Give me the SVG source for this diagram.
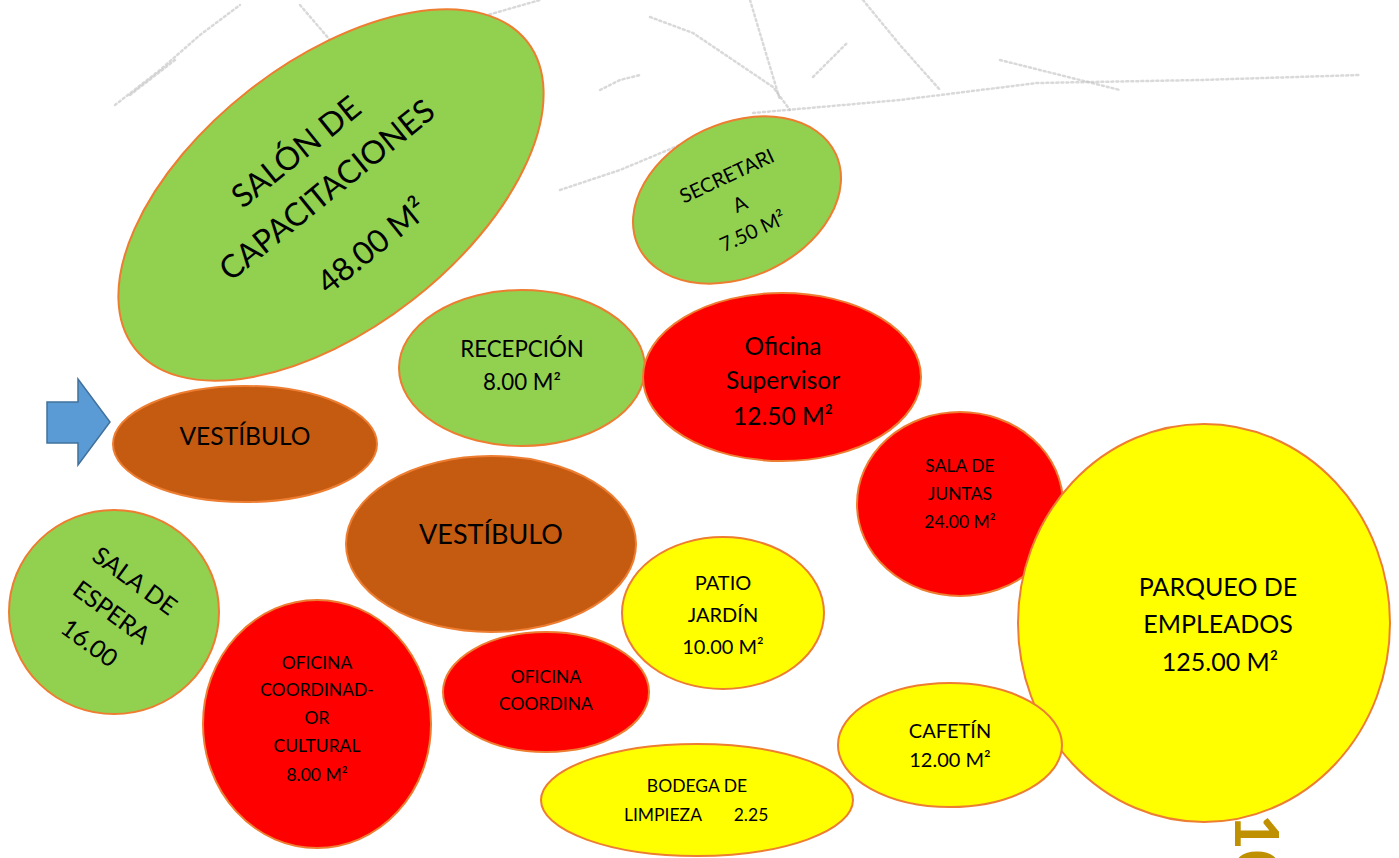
<svg xmlns="http://www.w3.org/2000/svg" width="1399" height="858" viewBox="0 0 1399 858">
<style>
.n{stroke:#ED7D31;stroke-width:2}
.g{fill:#92D050}.r{fill:#FF0000}.y{fill:#FFFF00}.b{fill:#C55A11}
.t{font-family:Lato,"Liberation Sans",sans-serif;fill:#000;text-anchor:middle}
.sk{fill:none;stroke:#c4c4c4;stroke-width:2.5;stroke-dasharray:2 3;stroke-linecap:round;opacity:.65}
</style>
<rect width="1399" height="858" fill="#fff"/>
<g id="sketch">
<path class="sk" d="M115 105 L160 70 L200 35 L240 5"/>
<path class="sk" d="M130 95 L175 60"/>
<path class="sk" d="M300 5 L330 40"/>
<path class="sk" d="M470 20 L540 0"/>
<path class="sk" d="M650 17 L693 33 L773 87 L790 110"/>
<path class="sk" d="M750 0 L765 50 L780 100"/>
<path class="sk" d="M863 0 L900 45 L940 90"/>
<path class="sk" d="M813 77 L847 43"/>
<path class="sk" d="M753 113 L900 100 L1037 83 L1200 80 L1360 75"/>
<path class="sk" d="M560 190 L620 170 L680 145 L720 130"/>
<path class="sk" d="M600 90 L620 80 L640 75"/>
<path class="sk" d="M1000 60 L1060 75 L1120 90"/>
</g>
<g id="arrow"><polygon points="47,402 78,402 78,379 110,422 78,465 78,443 47,443" fill="#5B9BD5" stroke="#41719C" stroke-width="1.5"/></g>
<g id="salon">
<ellipse class="n g" cx="331" cy="195" rx="249" ry="133" transform="rotate(-38 331 195)"/>
<g transform="translate(327 190) rotate(-39)" class="t" font-size="32">
<text y="-38">SALÓN DE</text><text y="11">CAPACITACIONES</text><text y="83">48.00 M²</text></g>
</g>
<g id="secretaria">
<ellipse class="n g" cx="737" cy="200" rx="109" ry="77" transform="rotate(-25 737 200)"/>
<g transform="translate(740 204) rotate(-25)" class="t" font-size="20">
<text y="-24">SECRETARI</text><text y="7">A</text><text y="37">7.50 M²</text></g>
</g>
<g id="recepcion">
<ellipse class="n g" cx="522" cy="368" rx="123" ry="78"/>
<text class="t" font-size="22.3" x="522" y="357">RECEPCIÓN</text>
<text class="t" font-size="22.3" x="522" y="390">8.00 M²</text>
</g>
<g id="supervisor">
<ellipse class="n r" cx="782" cy="377" rx="139" ry="84"/>
<text class="t" font-size="24.5" x="783" y="355">Oficina</text>
<text class="t" font-size="24.5" x="783" y="389">Supervisor</text>
<text class="t" font-size="24.5" x="783" y="425">12.50 M²</text>
</g>
<g id="vestibulo1">
<ellipse class="n b" cx="245" cy="444" rx="132" ry="58"/>
<text class="t" font-size="24.6" x="245" y="445">VESTÍBULO</text>
</g>
<g id="vestibulo2">
<ellipse class="n b" cx="491" cy="544" rx="145" ry="88"/>
<text class="t" font-size="27" x="491" y="544">VESTÍBULO</text>
</g>
<g id="juntas">
<ellipse class="n r" cx="960" cy="504" rx="103" ry="92"/>
<text class="t" font-size="17.5" x="960" y="472">SALA DE</text>
<text class="t" font-size="17.5" x="960" y="500">JUNTAS</text>
<text class="t" font-size="17.5" x="960" y="528">24.00 M²</text>
</g>
<g id="parqueo">
<ellipse class="n y" cx="1204" cy="623" rx="186" ry="199"/>
<text class="t" font-size="25" x="1218" y="596">PARQUEO DE</text>
<text class="t" font-size="25" x="1218" y="633">EMPLEADOS</text>
<text class="t" font-size="25" x="1220" y="671">125.00 M²</text>
</g>
<g id="espera">
<ellipse class="n g" cx="114" cy="612" rx="105" ry="102"/>
<g transform="translate(112 612) rotate(36)" class="t" font-size="24.5">
<text y="-30">SALA DE</text><text y="9">ESPERA</text><text y="47">16.00</text></g>
</g>
<g id="coordinador">
<ellipse class="n r" cx="317" cy="724" rx="114" ry="124"/>
<text class="t" font-size="17.5" x="317" y="669">OFICINA</text>
<text class="t" font-size="17.5" x="317" y="696">COORDINAD-</text>
<text class="t" font-size="17.5" x="317" y="724">OR</text>
<text class="t" font-size="17.5" x="317" y="752">CULTURAL</text>
<text class="t" font-size="17.5" x="317" y="781">8.00 M²</text>
</g>
<g id="coordina">
<ellipse class="n r" cx="546" cy="692" rx="103" ry="60"/>
<text class="t" font-size="17.5" x="546" y="683">OFICINA</text>
<text class="t" font-size="17.5" x="546" y="710">COORDINA</text>
</g>
<g id="patio">
<ellipse class="n y" cx="723" cy="613" rx="101" ry="76"/>
<text class="t" font-size="20" x="723" y="590">PATIO</text>
<text class="t" font-size="20" x="723" y="622">JARDÍN</text>
<text class="t" font-size="20" x="723" y="654">10.00 M²</text>
</g>
<g id="cafetin">
<ellipse class="n y" cx="950" cy="745" rx="112" ry="62"/>
<text class="t" font-size="20" x="950" y="738">CAFETÍN</text>
<text class="t" font-size="20" x="950" y="767">12.00 M²</text>
</g>
<g id="bodega">
<ellipse class="n y" cx="697" cy="800" rx="156" ry="56"/>
<text class="t" font-size="17.5" x="697" y="792">BODEGA DE</text>
<text class="t" font-size="17.5" x="663" y="821">LIMPIEZA</text>
<text class="t" font-size="17.5" x="751" y="821">2.25</text>
</g>
<text id="pagenum" font-family="Lato,'Liberation Sans',sans-serif" font-weight="bold" font-size="62" fill="#BF9000" transform="translate(1235 814) rotate(90)">10</text>
</svg>
